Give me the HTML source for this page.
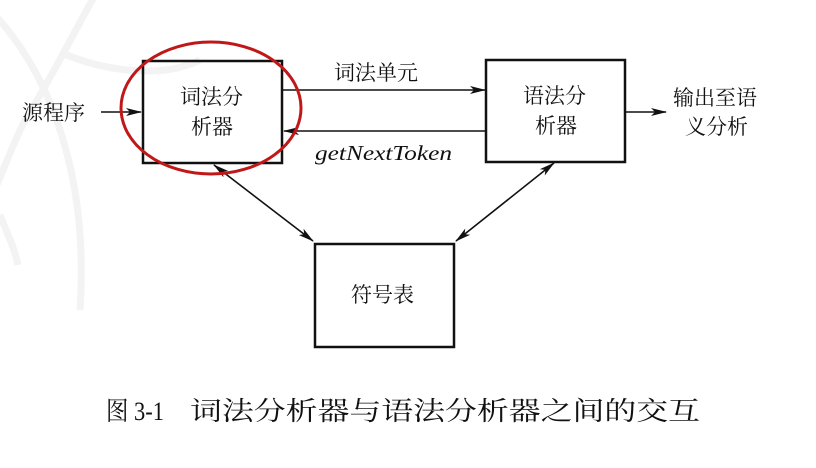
<!DOCTYPE html>
<html><head><meta charset="utf-8"><style>
html,body{margin:0;padding:0;background:#fff;}
svg{display:block;}
text{font-family:"Liberation Serif","Noto Serif CJK SC","Noto Sans CJK SC",serif;fill:#111;}
</style></head><body>
<svg width="816" height="468" viewBox="0 0 816 468" xmlns="http://www.w3.org/2000/svg">
<defs>
<marker id="a" markerWidth="16" markerHeight="8" refX="15" refY="4" orient="auto" markerUnits="userSpaceOnUse">
<path d="M0,0 L16,4 L0,8 L4,4 Z" fill="#111"/></marker>
<marker id="s" markerWidth="16" markerHeight="8" refX="1" refY="4" orient="auto" markerUnits="userSpaceOnUse">
<path d="M16,0 L0,4 L16,8 L12,4 Z" fill="#111"/></marker>
</defs>
<g fill="none" stroke="#f3f3f3" stroke-width="7">
<path d="M-10,10 C40,60 90,160 80,310"/>
<path d="M95,-5 C70,40 50,80 25,120 C10,150 0,180 -10,200"/>
<path d="M60,52 C100,70 160,80 200,60"/>
<path d="M0,215 C10,240 15,250 18,265"/>
</g>
<g fill="none" stroke="#111" stroke-width="2.5">
<rect x="143" y="61" width="139" height="102"/>
<rect x="486" y="60" width="139" height="102"/>
<rect x="315" y="244" width="139" height="103"/>
</g>
<g stroke="#111" stroke-width="1.6" fill="none">
<line x1="101" y1="112" x2="141" y2="112" marker-end="url(#a)"/>
<line x1="282" y1="90" x2="485" y2="90" marker-end="url(#a)"/>
<line x1="486" y1="131" x2="284" y2="131" marker-end="url(#a)"/>
<line x1="626" y1="112" x2="666" y2="112" marker-end="url(#a)"/>
<line x1="214" y1="165" x2="313" y2="241" marker-start="url(#s)" marker-end="url(#a)"/>
<line x1="554" y1="163" x2="456" y2="241" marker-start="url(#s)" marker-end="url(#a)"/>
</g>
<ellipse cx="211" cy="108" rx="90" ry="66" fill="none" stroke="#c01818" stroke-width="3"/>
<g font-size="21">
<text x="22" y="120">源程序</text>
<text x="180" y="104">词法分</text>
<text x="191" y="134">析器</text>
<text x="523" y="103">语法分</text>
<text x="535" y="133">析器</text>
<text x="334" y="80">词法单元</text>
<text x="673" y="105">输出至语</text>
<text x="685" y="134">义分析</text>
<text x="351" y="302">符号表</text>
<text x="315" y="160" font-style="italic" textLength="137" lengthAdjust="spacingAndGlyphs">getNextToken</text>
</g>
<text x="106" y="420" font-size="26" textLength="58" lengthAdjust="spacingAndGlyphs" fill="#222">图 3-1</text>
<text x="190" y="420" font-size="26" textLength="510" lengthAdjust="spacingAndGlyphs" fill="#222">词法分析器与语法分析器之间的交互</text>
</svg>
</body></html>
